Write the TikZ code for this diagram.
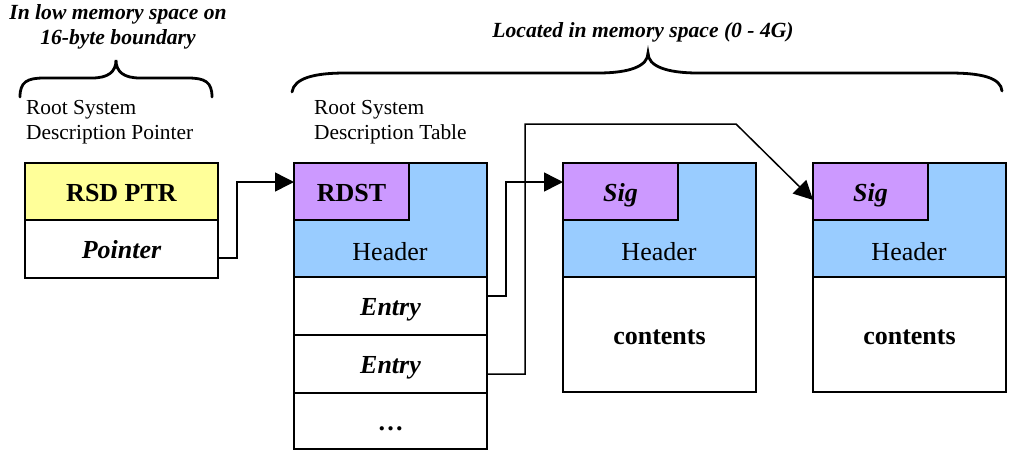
\documentclass[tikz,border=0pt]{standalone}
\usepackage{fontspec}
\setmainfont{Liberation Serif}
\usetikzlibrary{arrows.meta}

\definecolor{ptryellow}{HTML}{FFFF99}
\definecolor{sigpurple}{HTML}{CC99FF}
\definecolor{hdrblue}{HTML}{99CCFF}

\tikzset{
  cell/.style={draw, rectangle, line width=1.5pt, inner sep=0pt, outer sep=0pt,
    anchor=north west, text height=19pt, text depth=0pt,
    font=\fontsize{26}{30}\selectfont},
  fullcell/.style={cell, minimum width=193pt},
  sigcell/.style={cell, fill=sigpurple, minimum width=115pt, minimum height=57pt},
  hdrcell/.style={cell, fill=hdrblue, minimum width=193pt, minimum height=114pt},
  hdrtext/.style={inner sep=0pt, text height=19pt, text depth=0pt,
    font=\fontsize{26}{30}\selectfont},
  caption/.style={inner sep=0pt, align=left, anchor=west, font=\fontsize{21.4}{25}\selectfont},
  heading/.style={inner sep=0pt, align=center, font=\fontsize{21.6}{25}\selectfont\bfseries\itshape},
  link/.style={draw, line width=1.5pt, -{Triangle[length=19pt,width=19pt]}},
  brace/.style={draw, line width=2.8pt, line cap=round},
}

\begin{document}
\begin{tikzpicture}[x=1pt, y=-1pt]
\useasboundingbox (0,0) rectangle (1014,451);

% Headings above the braces
\node[heading] (lowtitle) at (118,27) {In low memory space on\\16-byte boundary};
\node[heading] (hightitle) at (643,32) {Located in memory space (0 - 4G)};

% Braces
\path[brace] (20,97) .. controls (20,82) and (27,78) .. (44,78) -- (92,78)
  .. controls (108,78) and (116,72) .. (116,60)
  .. controls (116,72) and (124,78) .. (140,78) -- (188,78)
  .. controls (205,78) and (212,82) .. (212,97);
\path[brace] (292,92) .. controls (294,78) and (315,73) .. (345,73) -- (598,73)
  .. controls (630,73) and (648,66) .. (648,53)
  .. controls (648,66) and (666,73) .. (698,73) -- (950,73)
  .. controls (982,73) and (1001,78) .. (1002,91);

% Captions
\node[caption] (rsdcap) at (26,122) {Root System\\Description Pointer};
\node[caption] (rsdtcap) at (314,122) {Root System\\Description Table};

% Root system description pointer
\node[fullcell, fill=ptryellow, minimum height=57pt] (rsd) at (25,163) {\bfseries RSD PTR};
\node[fullcell, minimum height=58pt] (ptr) at (25,220) {\bfseries\itshape Pointer};

% Root system description table
\node[hdrcell] (hdr1) at (294,163) {};
\node[sigcell] (rdst) at (294,163) {\bfseries RDST};
\node[hdrtext] (hdr1txt) at (390,251) {Header};
\node[fullcell, minimum height=58pt] (ent1) at (294,277) {\bfseries\itshape Entry};
\node[fullcell, minimum height=58pt] (ent2) at (294,335) {\bfseries\itshape Entry};
\node[fullcell, minimum height=56pt] (more) at (294,393) {\bfseries\dots};

% First described table
\node[hdrcell] (hdr2) at (563,163) {};
\node[sigcell] (sig2) at (563,163) {\bfseries\itshape Sig};
\node[hdrtext] (hdr2txt) at (659,251) {Header};
\node[fullcell, minimum height=115pt] (body2) at (563,277) {\bfseries contents};

% Second described table
\node[hdrcell] (hdr3) at (813,163) {};
\node[sigcell] (sig3) at (813,163) {\bfseries\itshape Sig};
\node[hdrtext] (hdr3txt) at (909,251) {Header};
\node[fullcell, minimum height=115pt] (body3) at (813,277) {\bfseries contents};

% Connectors
\coordinate (overbend) at (736,124);
\path[link] ([yshift=-9pt]ptr.east) -- ++(19,0) |- ([yshift=9.5pt]rdst.west);
\path[link] ([yshift=10pt]ent1.east) -- ++(19,0) |- ([yshift=9.5pt]sig2.west);
\path[link] ([yshift=-10pt]ent2.east) -- ++(38,0) |- (overbend) -- ([yshift=-8.5pt]sig3.west);
\end{tikzpicture}
\end{document}
